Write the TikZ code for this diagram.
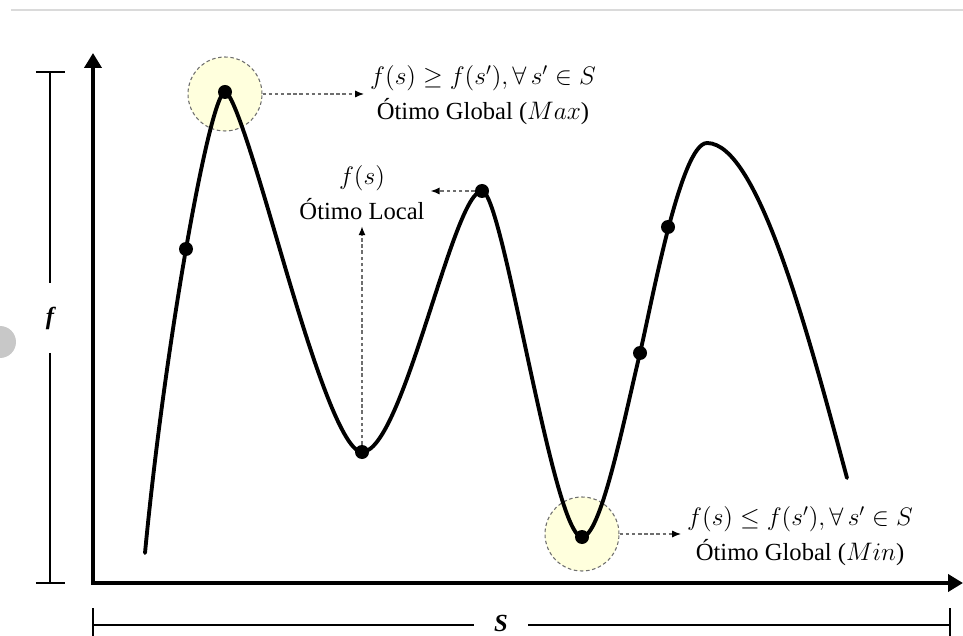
\documentclass[tikz,border=0pt]{standalone}
\usepackage{fontspec}
\setmainfont{Liberation Serif}
\usepackage{amsmath,amssymb}
\definecolor{hlyellow}{RGB}{255,255,221}
\definecolor{hlgray}{RGB}{110,110,110}
\definecolor{rulegray}{RGB}{218,218,218}
\definecolor{blobgray}{RGB}{200,200,200}
\usetikzlibrary{arrows.meta,positioning}

\begin{document}
\begin{tikzpicture}[
  dot/.style={circle, fill=black, inner sep=0pt, minimum size=0.28cm},
  hilite/.style={circle, draw=hlgray, fill=hlyellow, line width=0.6pt,
                 dash pattern=on 2pt off 1.5pt, minimum size=1.48cm, inner sep=0pt},
  lbl/.style={align=center, font=\fontsize{14}{20}\selectfont},
  axlbl/.style={font=\fontsize{14}{17}\selectfont\bfseries\itshape, inner sep=0pt},
  darr/.style={-{Latex[length=5pt,width=4pt,black]}, draw=hlgray, line width=0.7pt,
               dash pattern=on 2pt off 1.5pt},
  axis/.style={{Triangle[length=0.3cm,width=0.34cm]}-{Triangle[length=0.3cm,width=0.34cm]},
               line width=2.8pt, line join=miter},
  curve/.style={line width=2.2pt, line cap=round},
  bar/.style={line width=1.1pt}
]
\useasboundingbox (-1.86,-1.04) rectangle (17.40,11.66);
\clip (-1.86,-1.04) rectangle (17.40,11.66);

% page decorations
\draw[rulegray, line width=0.8pt] (-1.64,11.46) -- (17.40,11.46);
\fill[blobgray] (-1.86,4.82) circle (0.32cm);

% axes
\coordinate (origin) at (0,0);
\coordinate (ytop)   at (0,10.60);
\coordinate (xend)   at (17.40,0);
\draw[axis] (ytop) -- (origin) -- (xend);

% f range
\coordinate (ftop) at (-0.86,10.22);
\coordinate (fbot) at (-0.86,0);
\node[axlbl, minimum height=1.38cm] (flbl) at (-0.86,5.30) {f};
\draw[bar] (ftop) -- (flbl);
\draw[bar] (flbl) -- (fbot);
\draw[bar] ([xshift=-0.28cm]ftop) -- ([xshift=0.30cm]ftop);
\draw[bar] ([xshift=-0.28cm]fbot) -- ([xshift=0.30cm]fbot);

% S range
\coordinate (sleft)  at (0,-0.84);
\coordinate (sright) at (17.14,-0.84);
\node[axlbl, minimum width=1.08cm] (slbl) at (8.16,-0.80) {S};
\draw[bar] (sleft) -- (sleft -| slbl.west);
\draw[bar] (sright -| slbl.east) -- (sright);
\draw[bar] ([yshift=0.34cm]sleft) -- ([yshift=-0.40cm]sleft);
\draw[bar] ([yshift=0.34cm]sright) -- ([yshift=-0.40cm]sright);

% highlights
\node[hilite] (hmax) at (2.64,9.78) {};
\node[hilite] (hmin) at (9.78,0.98) {};

% objective function
\draw[curve] (1.04,0.60)
  .. controls (1.45,4.90) and (2.35,9.82) .. (2.64,9.82)
  .. controls (2.85,9.82) and (3.55,7.29) .. (3.90,6.12)
  .. controls (4.25,4.95) and (4.95,2.62) .. (5.38,2.62)
  .. controls (6.20,2.62) and (7.20,7.84) .. (7.78,7.84)
  .. controls (8.20,7.84) and (9.20,0.92) .. (9.78,0.92)
  .. controls (10.15,0.92) and (10.60,3.17) .. (10.94,4.60)
  .. controls (11.16,5.52) and (11.75,8.80) .. (12.28,8.80)
  .. controls (13.30,8.80) and (14.30,5.00) .. (15.08,2.10);

% solutions
\node[dot] (d1) at (1.86,6.68) {};
\node[dot] (d2) at (2.64,9.82) {};
\node[dot] (d3) at (5.38,2.62) {};
\node[dot] (d4) at (7.78,7.84) {};
\node[dot] (d5) at (9.78,0.92) {};
\node[dot] (d6) at (10.94,4.60) {};
\node[dot] (d7) at (11.50,7.12) {};

% labels
\node[lbl] (lblmax)   at (7.80,9.76) {$f(s)\geq f(s'),\forall\, s'\in S$\\\'Otimo Global ($Max$)};
\node[lbl] (lbllocal) at (5.38,7.80) {$f(s)$\\\'Otimo Local};
\node[lbl] (lblmin)   at (14.14,0.94) {$f(s)\leq f(s'),\forall\, s'\in S$\\\'Otimo Global ($Min$)};

% pointers
\draw[darr] (hmax.east) -- (hmax.east -| lblmax.west);
\draw[darr] (d3) -- (lbllocal.south);
\draw[darr] (d4.west) -- (d4.west -| lbllocal.east);
\draw[darr] (hmin.east) -- (hmin.east -| lblmin.west);
\end{tikzpicture}
\end{document}
